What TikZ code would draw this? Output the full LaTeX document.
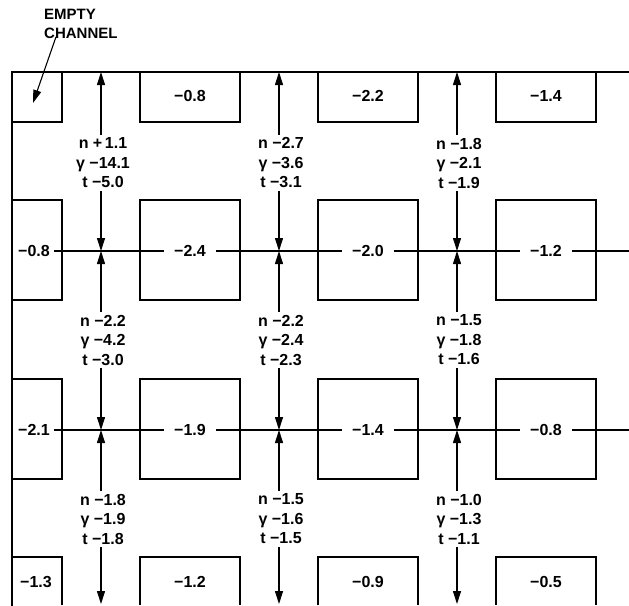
\documentclass[tikz,border=0pt]{standalone}
\usepackage{fontspec}
\setmainfont{Liberation Sans}
\usetikzlibrary{arrows.meta,calc}
\tikzset{
  frameline/.style={line width=1.3pt,line cap=rect},
  cellbox/.style={draw=black,line width=1.3pt},
  cellvalue/.style={font=\fontsize{16}{20}\selectfont\bfseries,inner xsep=10pt,inner ysep=2pt},
  flowvals/.style={align=center,font=\fontsize{16}{19.5}\selectfont\bfseries,inner xsep=2pt,inner ysep=3pt},
  flowarrow/.style={line width=1.1pt,-{Triangle[length=13pt,width=8pt]}},
  crossline/.style={line width=1.1pt},
  channeltag/.style={align=left,font=\fontsize{15}{19}\selectfont\bfseries,inner sep=0pt,anchor=north west}
}
\begin{document}
\begin{tikzpicture}[x=1pt,y=-1pt]
  \useasboundingbox (0,0) rectangle (629,605);

  % frame and cells
  \draw[frameline] (629,72) -- (12,72) -- (12,605);
  \draw[cellbox] (12,72) rectangle (62,122);
  \draw[cellbox] (140,72) rectangle (240,122);
  \draw[cellbox] (318,72) rectangle (418,122);
  \draw[cellbox] (496,72) rectangle (596,122);
  \draw[cellbox] (12,200) rectangle (62,300);
  \draw[cellbox] (140,200) rectangle (240,300);
  \draw[cellbox] (318,200) rectangle (418,300);
  \draw[cellbox] (496,200) rectangle (596,300);
  \draw[cellbox] (12,379) rectangle (62,479);
  \draw[cellbox] (140,379) rectangle (240,479);
  \draw[cellbox] (318,379) rectangle (418,479);
  \draw[cellbox] (496,379) rectangle (596,479);
  \draw[cellbox] (12,605) |- (62,557) -- (62,605);
  \draw[cellbox] (140,605) |- (240,557) -- (240,605);
  \draw[cellbox] (318,605) |- (418,557) -- (418,605);
  \draw[cellbox] (496,605) |- (596,557) -- (596,605);

  % empty channel
  \node[channeltag] (empty) at (44,9) {EMPTY\\CHANNEL};
  \coordinate (emptytip) at (33,103);
  \draw[flowarrow] ($(empty.south west)+(12,-2)$) -- (emptytip);

  % cell values
  \node[cellvalue] (v0b) at (190,96) {−0.8};
  \node[cellvalue] (v0c) at (368,96) {−2.2};
  \node[cellvalue] (v0d) at (546,96) {−1.4};
  \node[cellvalue,inner xsep=4pt] (v1a) at (34,251) {−0.8};
  \node[cellvalue] (v1b) at (190,251) {−2.4};
  \node[cellvalue] (v1c) at (368,251) {−2.0};
  \node[cellvalue] (v1d) at (546,251) {−1.2};
  \node[cellvalue,inner xsep=4pt] (v2a) at (34,430) {−2.1};
  \node[cellvalue] (v2b) at (190,430) {−1.9};
  \node[cellvalue] (v2c) at (368,430) {−1.4};
  \node[cellvalue] (v2d) at (546,430) {−0.8};
  \node[cellvalue] (v3a) at (36,582) {−1.3};
  \node[cellvalue] (v3b) at (190,582) {−1.2};
  \node[cellvalue] (v3c) at (368,582) {−0.9};
  \node[cellvalue] (v3d) at (546,582) {−0.5};

  % cross lines
  \coordinate (e1) at (629,251);
  \coordinate (e2) at (629,430);
  \draw[crossline] (v1a) -- (v1b) -- (v1c) -- (v1d) -- (e1);
  \draw[crossline] (v2a) -- (v2b) -- (v2c) -- (v2d) -- (e2);

  % gap values
  \node[flowvals] (fa1) at (103,163) {n +\,1.1\\γ −14.1\\t −5.0};
  \node[flowvals] (fb1) at (281,163) {n −2.7\\γ −3.6\\t −3.1};
  \node[flowvals] (fc1) at (459,163) {n −1.8\\γ −2.1\\t −1.9};
  \node[flowvals] (fa2) at (103,340) {n −2.2\\γ −4.2\\t −3.0};
  \node[flowvals] (fb2) at (281,340) {n −2.2\\γ −2.4\\t −2.3};
  \node[flowvals] (fc2) at (459,340) {n −1.5\\γ −1.8\\t −1.6};
  \node[flowvals] (fa3) at (103,519) {n −1.8\\γ −1.9\\t −1.8};
  \node[flowvals] (fb3) at (281,519) {n −1.5\\γ −1.6\\t −1.5};
  \node[flowvals] (fc3) at (459,519) {n −1.0\\γ −1.3\\t −1.1};

  \coordinate (ta) at (101,72);
  \coordinate (tb) at (279,72);
  \coordinate (tc) at (457,72);
  \coordinate (xa1) at (101,251);
  \coordinate (xb1) at (279,251);
  \coordinate (xc1) at (457,251);
  \coordinate (xa2) at (101,430);
  \coordinate (xb2) at (279,430);
  \coordinate (xc2) at (457,430);
  \coordinate (ba) at (101,604);
  \coordinate (bb) at (279,604);
  \coordinate (bc) at (457,604);

  % arrows
  \draw[flowarrow] (fa1.north -| ta) -- (ta);
  \draw[flowarrow] (fb1.north -| tb) -- (tb);
  \draw[flowarrow] (fc1.north -| tc) -- (tc);
  \draw[flowarrow] (fa1.south -| xa1) -- (xa1);
  \draw[flowarrow] (fb1.south -| xb1) -- (xb1);
  \draw[flowarrow] (fc1.south -| xc1) -- (xc1);
  \draw[flowarrow] (fa2.north -| xa1) -- (xa1);
  \draw[flowarrow] (fb2.north -| xb1) -- (xb1);
  \draw[flowarrow] (fc2.north -| xc1) -- (xc1);
  \draw[flowarrow] (fa2.south -| xa2) -- (xa2);
  \draw[flowarrow] (fb2.south -| xb2) -- (xb2);
  \draw[flowarrow] (fc2.south -| xc2) -- (xc2);
  \draw[flowarrow] (fa3.north -| xa2) -- (xa2);
  \draw[flowarrow] (fb3.north -| xb2) -- (xb2);
  \draw[flowarrow] (fc3.north -| xc2) -- (xc2);
  \draw[flowarrow] (fa3.south -| ba) -- (ba);
  \draw[flowarrow] (fb3.south -| bb) -- (bb);
  \draw[flowarrow] (fc3.south -| bc) -- (bc);
\end{tikzpicture}
\end{document}
